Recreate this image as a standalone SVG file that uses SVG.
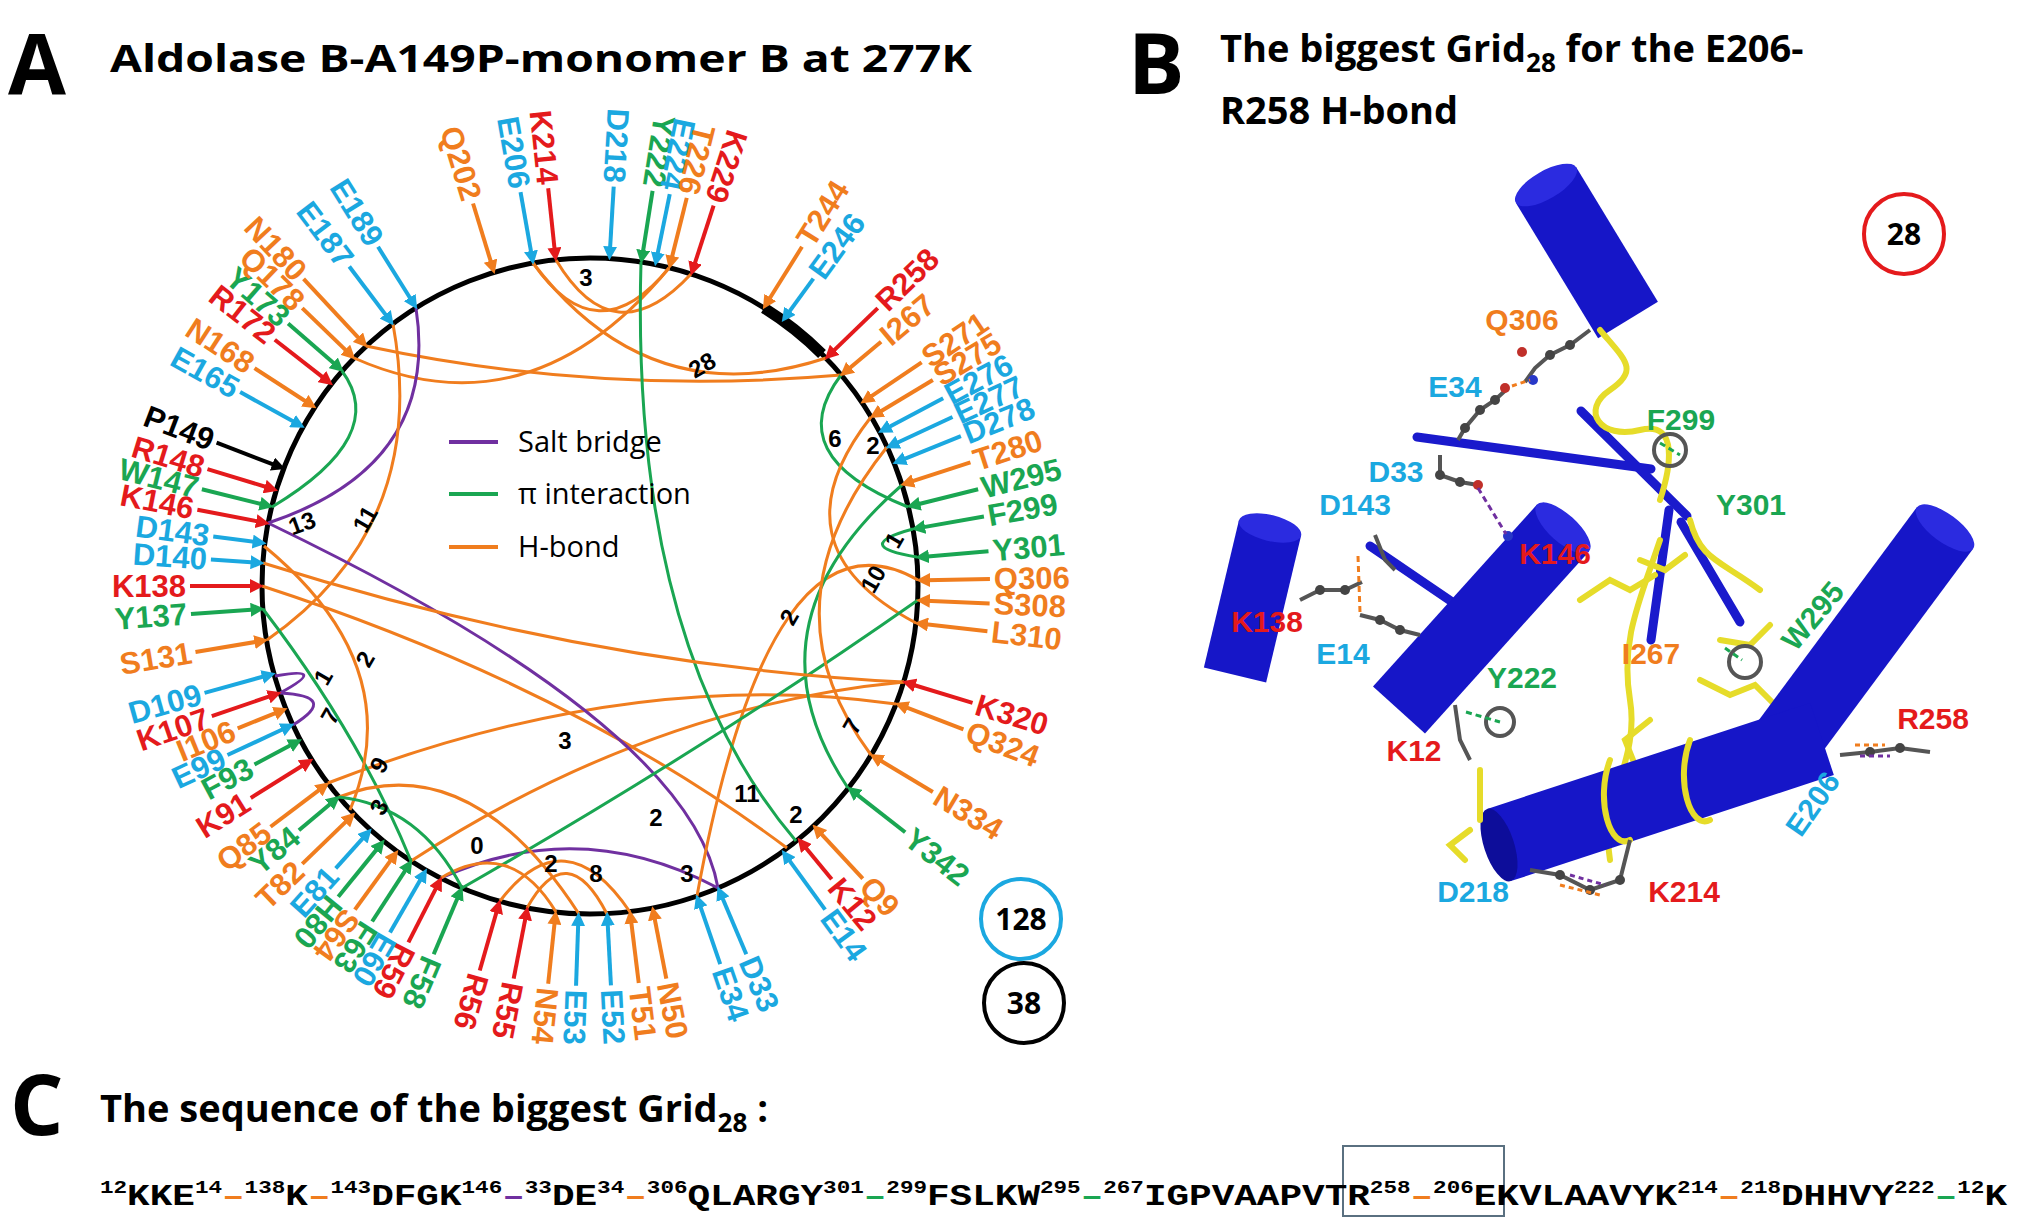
<svg xmlns="http://www.w3.org/2000/svg" width="2020" height="1220" viewBox="0 0 2020 1220">
<style>
.t{font-family:"Open Sans","Liberation Sans",sans-serif;font-weight:bold;fill:#000}
.lb{font:bold 31px "Liberation Sans",sans-serif;dominant-baseline:central}
.num{font:bold 24px "Liberation Sans",sans-serif;fill:#000;text-anchor:middle;dominant-baseline:central}
g.r text{fill:#e41a1c} g.r line{stroke:#e41a1c;marker-end:url(#mr)}
g.b text{fill:#1ba8e0} g.b line{stroke:#1ba8e0;marker-end:url(#mb)}
g.g text{fill:#1aa652} g.g line{stroke:#1aa652;marker-end:url(#mg)}
g.o text{fill:#f07d1e} g.o line{stroke:#f07d1e;marker-end:url(#mo)}
g.k text{fill:#000} g.k line{stroke:#000;marker-end:url(#mk)}
.ar line{stroke-width:4}
#conn path{fill:none;stroke-width:3}
.co{stroke:#f07d1e}.cg{stroke:#1aa652}.cp{stroke:#7030a0}
.bl{font:bold 30px "Liberation Sans",sans-serif;text-anchor:middle}
.cyl{stroke:#1616c8;stroke-linecap:butt}
.st{stroke:#1a1acc;stroke-width:9;stroke-linecap:round}
.yl{fill:none;stroke:#e6dc2a;stroke-width:6;stroke-linecap:round}
.gy{fill:none;stroke:#555;stroke-width:4}
.ball{fill:#444}
.seq{font:bold 30px "Liberation Mono",monospace;fill:#000}
</style>
<defs>
<marker id="mr" viewBox="0 0 10 10" refX="3" refY="5" markerWidth="3.5" markerHeight="3.5" orient="auto"><path d="M0,0L10,5L0,10z" fill="#e41a1c"/></marker>
<marker id="mb" viewBox="0 0 10 10" refX="3" refY="5" markerWidth="3.5" markerHeight="3.5" orient="auto"><path d="M0,0L10,5L0,10z" fill="#1ba8e0"/></marker>
<marker id="mg" viewBox="0 0 10 10" refX="3" refY="5" markerWidth="3.5" markerHeight="3.5" orient="auto"><path d="M0,0L10,5L0,10z" fill="#1aa652"/></marker>
<marker id="mo" viewBox="0 0 10 10" refX="3" refY="5" markerWidth="3.5" markerHeight="3.5" orient="auto"><path d="M0,0L10,5L0,10z" fill="#f07d1e"/></marker>
<marker id="mk" viewBox="0 0 10 10" refX="3" refY="5" markerWidth="3.5" markerHeight="3.5" orient="auto"><path d="M0,0L10,5L0,10z" fill="#000"/></marker>
</defs>
<rect width="2020" height="1220" fill="#fff"/>

<!-- Panel A -->
<text class="t" x="8" y="94" font-size="84">A</text>
<text class="t" x="110" y="72" font-size="38" textLength="862" lengthAdjust="spacingAndGlyphs">Aldolase B-A149P-monomer B at 277K</text>

<circle cx="590" cy="586" r="328" fill="none" stroke="#000" stroke-width="5"/>
<path d="M764,308 A328,328 0 0 1 822,354" fill="none" stroke="#000" stroke-width="11"/>

<g id="conn" transform="translate(590,586)">
<path class="co" d="M-57,-323 Q7,-230 79,-318"/>
<path class="co" d="M-34,-326 Q24,-229 101,-312"/>
<path class="co" d="M236,-228 Q60,-170 -57,-323"/>
<path class="co" d="M79,-318 Q-60,-150 -236,-228"/>
<path class="co" d="M251,-211 Q10,-190 -224,-240"/>
<path class="cp" d="M-322,-63 Q-150,-120 -174,-278"/>
<path class="cg" d="M-318,-79 Q-200,-150 -248,-215"/>
<path class="co" d="M-197,-262 Q-160,-60 -323,54"/>
<path class="co" d="M-328,0 Q-20,100 197,262"/>
<path class="co" d="M314,96 Q60,120 -179,275"/>
<path class="co" d="M306,118 Q40,80 -262,197"/>
<path class="cp" d="M-322,-63 Q100,140 128,302"/>
<path class="cp" d="M-149,292 Q-10,229 128,302"/>
<path class="cp" d="M-315,90 Q-260,80 -310,107"/>
<path class="cp" d="M-310,107 Q-250,110 -297,139"/>
<path class="cg" d="M-327,23 Q-230,150 -179,275"/>
<path class="co" d="M-326,-40 Q-180,80 -240,224"/>
<path class="cg" d="M318,-79 Q190,-130 251,-211"/>
<path class="cg" d="M323,-57 Q260,-40 327,-29"/>
<path class="co" d="M328,-6 Q180,-90 107,310"/>
<path class="co" d="M326,37 Q180,-40 281,-169"/>
<path class="cg" d="M258,202 Q150,40 312,-101"/>
<path class="cg" d="M51,-324 Q40,60 206,255"/>
<path class="cg" d="M-128,302 Q120,160 328,14"/>
<path class="co" d="M281,169 Q170,20 297,-139"/>
<path class="co" d="M40,326 Q-25,230 -90,315"/>
<path class="co" d="M17,328 Q-23,250 -63,322"/>
<path class="co" d="M-251,211 Q-120,160 -11,328"/>
<path class="co" d="M-34,326 Q-80,250 -149,292"/>
<path class="cg" d="M-251,211 Q-170,220 -128,302"/>
<path class="co" d="M-327,-23 Q0,80 314,96"/>
</g>

<g id="nodes" transform="translate(590,586)">
<g id="n-Q202" class="o ar" transform="rotate(-107)"><line x1="400" y1="0" x2="336" y2="0"/><text class="lb" x="404" text-anchor="end" transform="rotate(180 404 0)">Q202</text></g>
<g id="n-E206" class="b ar" transform="rotate(-100)"><line x1="400" y1="0" x2="336" y2="0"/><text class="lb" x="404" text-anchor="end" transform="rotate(180 404 0)">E206</text></g>
<g id="n-K214" class="r ar" transform="rotate(-96)"><line x1="400" y1="0" x2="336" y2="0"/><text class="lb" x="404" text-anchor="end" transform="rotate(180 404 0)">K214</text></g>
<g id="n-D218" class="b ar" transform="rotate(-86.6)"><line x1="400" y1="0" x2="336" y2="0"/><text class="lb" x="404" text-anchor="end" transform="rotate(180 404 0)">D218</text></g>
<g id="n-Y222" class="g ar" transform="rotate(-81)"><line x1="400" y1="0" x2="336" y2="0"/><text class="lb" x="404" text-anchor="end" transform="rotate(180 404 0)">Y222</text></g>
<g id="n-E224" class="b ar" transform="rotate(-78.5)"><line x1="400" y1="0" x2="336" y2="0"/><text class="lb" x="404" text-anchor="end" transform="rotate(180 404 0)">E224</text></g>
<g id="n-T226" class="o ar" transform="rotate(-76)"><line x1="400" y1="0" x2="336" y2="0"/><text class="lb" x="404" text-anchor="end" transform="rotate(180 404 0)">T226</text></g>
<g id="n-K229" class="r ar" transform="rotate(-72)"><line x1="400" y1="0" x2="336" y2="0"/><text class="lb" x="404" text-anchor="end" transform="rotate(180 404 0)">K229</text></g>
<g id="n-T244" class="o ar" transform="rotate(-58)"><line x1="400" y1="0" x2="336" y2="0"/><text class="lb" x="404">T244</text></g>
<g id="n-E246" class="b ar" transform="rotate(-54)"><line x1="380" y1="0" x2="336" y2="0"/><text class="lb" x="384">E246</text></g>
<g id="n-R258" class="r ar" transform="rotate(-44)"><line x1="400" y1="0" x2="336" y2="0"/><text class="lb" x="404">R258</text></g>
<g id="n-I267" class="o ar" transform="rotate(-40)"><line x1="380" y1="0" x2="336" y2="0"/><text class="lb" x="384">I267</text></g>
<g id="n-S271" class="o ar" transform="rotate(-34)"><line x1="400" y1="0" x2="336" y2="0"/><text class="lb" x="404">S271</text></g>
<g id="n-S275" class="o ar" transform="rotate(-31)"><line x1="400" y1="0" x2="336" y2="0"/><text class="lb" x="404">S275</text></g>
<g id="n-E276" class="b ar" transform="rotate(-28)"><line x1="400" y1="0" x2="336" y2="0"/><text class="lb" x="404">E276</text></g>
<g id="n-E277" class="b ar" transform="rotate(-25)"><line x1="400" y1="0" x2="336" y2="0"/><text class="lb" x="404">E277</text></g>
<g id="n-D278" class="b ar" transform="rotate(-22)"><line x1="400" y1="0" x2="336" y2="0"/><text class="lb" x="404">D278</text></g>
<g id="n-T280" class="o ar" transform="rotate(-18)"><line x1="400" y1="0" x2="336" y2="0"/><text class="lb" x="404">T280</text></g>
<g id="n-W295" class="g ar" transform="rotate(-14)"><line x1="400" y1="0" x2="336" y2="0"/><text class="lb" x="404">W295</text></g>
<g id="n-F299" class="g ar" transform="rotate(-10)"><line x1="400" y1="0" x2="336" y2="0"/><text class="lb" x="404">F299</text></g>
<g id="n-Y301" class="g ar" transform="rotate(-5)"><line x1="400" y1="0" x2="336" y2="0"/><text class="lb" x="404">Y301</text></g>
<g id="n-Q306" class="o ar" transform="rotate(-1)"><line x1="400" y1="0" x2="336" y2="0"/><text class="lb" x="404">Q306</text></g>
<g id="n-S308" class="o ar" transform="rotate(2.5)"><line x1="400" y1="0" x2="336" y2="0"/><text class="lb" x="404">S308</text></g>
<g id="n-L310" class="o ar" transform="rotate(6.5)"><line x1="400" y1="0" x2="336" y2="0"/><text class="lb" x="404">L310</text></g>
<g id="n-K320" class="r ar" transform="rotate(17)"><line x1="400" y1="0" x2="336" y2="0"/><text class="lb" x="404">K320</text></g>
<g id="n-Q324" class="o ar" transform="rotate(21)"><line x1="400" y1="0" x2="336" y2="0"/><text class="lb" x="404">Q324</text></g>
<g id="n-N334" class="o ar" transform="rotate(31)"><line x1="400" y1="0" x2="336" y2="0"/><text class="lb" x="404">N334</text></g>
<g id="n-Y342" class="g ar" transform="rotate(38)"><line x1="400" y1="0" x2="336" y2="0"/><text class="lb" x="404">Y342</text></g>
<g id="n-Q9" class="o ar" transform="rotate(47)"><line x1="400" y1="0" x2="336" y2="0"/><text class="lb" x="404">Q9</text></g>
<g id="n-K12" class="r ar" transform="rotate(50.5)"><line x1="380" y1="0" x2="336" y2="0"/><text class="lb" x="384">K12</text></g>
<g id="n-E14" class="b ar" transform="rotate(54)"><line x1="400" y1="0" x2="336" y2="0"/><text class="lb" x="404">E14</text></g>
<g id="n-D33" class="b ar" transform="rotate(67)"><line x1="400" y1="0" x2="336" y2="0"/><text class="lb" x="404">D33</text></g>
<g id="n-E34" class="b ar" transform="rotate(71)"><line x1="400" y1="0" x2="336" y2="0"/><text class="lb" x="404">E34</text></g>
<g id="n-N50" class="o ar" transform="rotate(79)"><line x1="400" y1="0" x2="336" y2="0"/><text class="lb" x="404">N50</text></g>
<g id="n-T51" class="o ar" transform="rotate(83)"><line x1="400" y1="0" x2="336" y2="0"/><text class="lb" x="404">T51</text></g>
<g id="n-E52" class="b ar" transform="rotate(87)"><line x1="400" y1="0" x2="336" y2="0"/><text class="lb" x="404">E52</text></g>
<g id="n-E53" class="b ar" transform="rotate(92)"><line x1="400" y1="0" x2="336" y2="0"/><text class="lb" x="404">E53</text></g>
<g id="n-N54" class="o ar" transform="rotate(96)"><line x1="400" y1="0" x2="336" y2="0"/><text class="lb" x="404">N54</text></g>
<g id="n-R55" class="r ar" transform="rotate(101)"><line x1="400" y1="0" x2="336" y2="0"/><text class="lb" x="404">R55</text></g>
<g id="n-R56" class="r ar" transform="rotate(106)"><line x1="400" y1="0" x2="336" y2="0"/><text class="lb" x="404">R56</text></g>
<g id="n-F58" class="g ar" transform="rotate(113)"><line x1="400" y1="0" x2="336" y2="0"/><text class="lb" x="404">F58</text></g>
<g id="n-R59" class="r ar" transform="rotate(117)"><line x1="400" y1="0" x2="336" y2="0"/><text class="lb" x="404">R59</text></g>
<g id="n-E60" class="b ar" transform="rotate(120)"><line x1="400" y1="0" x2="336" y2="0"/><text class="lb" x="404">E60</text></g>
<g id="n-F63" class="g ar" transform="rotate(123)"><line x1="400" y1="0" x2="336" y2="0"/><text class="lb" x="404">F63</text></g>
<g id="n-S64" class="o ar" transform="rotate(126)"><line x1="400" y1="0" x2="336" y2="0"/><text class="lb" x="404">S64</text></g>
<g id="n-H80" class="g ar" transform="rotate(129)"><line x1="400" y1="0" x2="336" y2="0"/><text class="lb" x="404">H80</text></g>
<g id="n-E81" class="b ar" transform="rotate(132)"><line x1="380" y1="0" x2="336" y2="0"/><text class="lb" x="384" text-anchor="end" transform="rotate(180 384 0)">E81</text></g>
<g id="n-T82" class="o ar" transform="rotate(136)"><line x1="400" y1="0" x2="336" y2="0"/><text class="lb" x="404" text-anchor="end" transform="rotate(180 404 0)">T82</text></g>
<g id="n-Y84" class="g ar" transform="rotate(140)"><line x1="380" y1="0" x2="336" y2="0"/><text class="lb" x="384" text-anchor="end" transform="rotate(180 384 0)">Y84</text></g>
<g id="n-Q85" class="o ar" transform="rotate(143)"><line x1="400" y1="0" x2="336" y2="0"/><text class="lb" x="404" text-anchor="end" transform="rotate(180 404 0)">Q85</text></g>
<g id="n-K91" class="r ar" transform="rotate(148)"><line x1="400" y1="0" x2="336" y2="0"/><text class="lb" x="404" text-anchor="end" transform="rotate(180 404 0)">K91</text></g>
<g id="n-F93" class="g ar" transform="rotate(152)"><line x1="380" y1="0" x2="336" y2="0"/><text class="lb" x="384" text-anchor="end" transform="rotate(180 384 0)">F93</text></g>
<g id="n-E99" class="b ar" transform="rotate(155)"><line x1="400" y1="0" x2="336" y2="0"/><text class="lb" x="404" text-anchor="end" transform="rotate(180 404 0)">E99</text></g>
<g id="n-I106" class="o ar" transform="rotate(158)"><line x1="380" y1="0" x2="336" y2="0"/><text class="lb" x="384" text-anchor="end" transform="rotate(180 384 0)">I106</text></g>
<g id="n-K107" class="r ar" transform="rotate(161)"><line x1="400" y1="0" x2="336" y2="0"/><text class="lb" x="404" text-anchor="end" transform="rotate(180 404 0)">K107</text></g>
<g id="n-D109" class="b ar" transform="rotate(164.5)"><line x1="400" y1="0" x2="336" y2="0"/><text class="lb" x="404" text-anchor="end" transform="rotate(180 404 0)">D109</text></g>
<g id="n-S131" class="o ar" transform="rotate(170.5)"><line x1="400" y1="0" x2="336" y2="0"/><text class="lb" x="404" text-anchor="end" transform="rotate(180 404 0)">S131</text></g>
<g id="n-Y137" class="g ar" transform="rotate(176)"><line x1="400" y1="0" x2="336" y2="0"/><text class="lb" x="404" text-anchor="end" transform="rotate(180 404 0)">Y137</text></g>
<g id="n-K138" class="r ar" transform="rotate(180)"><line x1="400" y1="0" x2="336" y2="0"/><text class="lb" x="404" text-anchor="end" transform="rotate(180 404 0)">K138</text></g>
<g id="n-D140" class="b ar" transform="rotate(184)"><line x1="380" y1="0" x2="336" y2="0"/><text class="lb" x="384" text-anchor="end" transform="rotate(180 384 0)">D140</text></g>
<g id="n-D143" class="b ar" transform="rotate(187.5)"><line x1="380" y1="0" x2="336" y2="0"/><text class="lb" x="384" text-anchor="end" transform="rotate(180 384 0)">D143</text></g>
<g id="n-K146" class="r ar" transform="rotate(191)"><line x1="400" y1="0" x2="336" y2="0"/><text class="lb" x="404" text-anchor="end" transform="rotate(180 404 0)">K146</text></g>
<g id="n-W147" class="g ar" transform="rotate(194)"><line x1="400" y1="0" x2="336" y2="0"/><text class="lb" x="404" text-anchor="end" transform="rotate(180 404 0)">W147</text></g>
<g id="n-R148" class="r ar" transform="rotate(197)"><line x1="400" y1="0" x2="336" y2="0"/><text class="lb" x="404" text-anchor="end" transform="rotate(180 404 0)">R148</text></g>
<g id="n-P149" class="k ar" transform="rotate(201)"><line x1="400" y1="0" x2="336" y2="0"/><text class="lb" x="404" text-anchor="end" transform="rotate(180 404 0)">P149</text></g>
<g id="n-E165" class="b ar" transform="rotate(209)"><line x1="400" y1="0" x2="336" y2="0"/><text class="lb" x="404" text-anchor="end" transform="rotate(180 404 0)">E165</text></g>
<g id="n-N168" class="o ar" transform="rotate(213)"><line x1="400" y1="0" x2="336" y2="0"/><text class="lb" x="404" text-anchor="end" transform="rotate(180 404 0)">N168</text></g>
<g id="n-R172" class="r ar" transform="rotate(218)"><line x1="400" y1="0" x2="336" y2="0"/><text class="lb" x="404" text-anchor="end" transform="rotate(180 404 0)">R172</text></g>
<g id="n-Y173" class="g ar" transform="rotate(221)"><line x1="400" y1="0" x2="336" y2="0"/><text class="lb" x="404" text-anchor="end" transform="rotate(180 404 0)">Y173</text></g>
<g id="n-Q178" class="o ar" transform="rotate(224)"><line x1="400" y1="0" x2="336" y2="0"/><text class="lb" x="404" text-anchor="end" transform="rotate(180 404 0)">Q178</text></g>
<g id="n-N180" class="o ar" transform="rotate(227)"><line x1="420" y1="0" x2="336" y2="0"/><text class="lb" x="424" text-anchor="end" transform="rotate(180 424 0)">N180</text></g>
<g id="n-E187" class="b ar" transform="rotate(233)"><line x1="400" y1="0" x2="336" y2="0"/><text class="lb" x="404" text-anchor="end" transform="rotate(180 404 0)">E187</text></g>
<g id="n-E189" class="b ar" transform="rotate(238)"><line x1="400" y1="0" x2="336" y2="0"/><text class="lb" x="404" text-anchor="end" transform="rotate(180 404 0)">E189</text></g>
</g>

<g id="numbers">
<text class="num" x="586" y="277">3</text>
<text class="num" x="702" y="365" transform="rotate(-30 702 365)">28</text>
<text class="num" x="835" y="438">6</text>
<text class="num" x="873" y="445">2</text>
<text class="num" x="894" y="540" transform="rotate(-60 894 540)">1</text>
<text class="num" x="873" y="579" transform="rotate(-60 873 579)">10</text>
<text class="num" x="789" y="617" transform="rotate(-60 789 617)">2</text>
<text class="num" x="852" y="726" transform="rotate(-60 852 726)">7</text>
<text class="num" x="747" y="793">11</text>
<text class="num" x="796" y="814">2</text>
<text class="num" x="656" y="817">2</text>
<text class="num" x="687" y="873">3</text>
<text class="num" x="596" y="873">8</text>
<text class="num" x="551" y="863">2</text>
<text class="num" x="477" y="845">0</text>
<text class="num" x="565" y="740">3</text>
<text class="num" x="379" y="765" transform="rotate(-60 379 765)">9</text>
<text class="num" x="379" y="807" transform="rotate(-60 379 807)">3</text>
<text class="num" x="323" y="677" transform="rotate(-60 323 677)">1</text>
<text class="num" x="330" y="716" transform="rotate(-60 330 716)">7</text>
<text class="num" x="365" y="659" transform="rotate(-60 365 659)">2</text>
<text class="num" x="302" y="523" transform="rotate(-20 302 523)">13</text>
<text class="num" x="365" y="519" transform="rotate(-60 365 519)">11</text>
</g>

<g id="legend">
<line x1="449" y1="442" x2="498" y2="442" stroke="#7030a0" stroke-width="4"/>
<line x1="449" y1="494" x2="498" y2="494" stroke="#1aa652" stroke-width="4"/>
<line x1="449" y1="547" x2="498" y2="547" stroke="#f07d1e" stroke-width="4"/>
<text x="518" y="452" font-family="Open Sans,Liberation Sans,sans-serif" font-size="29">Salt bridge</text>
<text x="518" y="504" font-family="Open Sans,Liberation Sans,sans-serif" font-size="29">π interaction</text>
<text x="518" y="557" font-family="Open Sans,Liberation Sans,sans-serif" font-size="29">H-bond</text>
</g>

<g id="count128"><circle cx="1021" cy="919" r="40" fill="none" stroke="#1ba8e0" stroke-width="4"/><text x="1021" y="930" text-anchor="middle" class="t" font-size="30">128</text></g>
<g id="count38"><circle cx="1024" cy="1003" r="40" fill="none" stroke="#000" stroke-width="4"/><text x="1024" y="1014" text-anchor="middle" class="t" font-size="30">38</text></g>

<!-- Panel B -->
<text class="t" x="1128" y="94" font-size="84">B</text>
<text class="t" x="1220" y="62" font-size="38">The biggest Grid<tspan font-size="26" dy="10">28</tspan><tspan dy="-10"> for the E206-</tspan></text>
<text class="t" x="1220" y="124" font-size="38">R258 H-bond</text>
<g id="count28"><circle cx="1904" cy="234" r="40" fill="none" stroke="#e41a1c" stroke-width="4"/><text x="1904" y="245" text-anchor="middle" class="t" font-size="30">28</text></g>

<g id="structure">
<line class="cyl" x1="1546" y1="185" x2="1628" y2="320" stroke-width="70"/>
<ellipse cx="1546" cy="185" rx="14" ry="35" transform="rotate(59.8 1546 185)" fill="#2b2be0"/>
<line class="cyl" x1="1270" y1="528" x2="1235" y2="675" stroke-width="64"/>
<ellipse cx="1270" cy="528" rx="13" ry="32" transform="rotate(103.4 1270 528)" fill="#2b2be0"/>
<line class="st" x1="1417" y1="437" x2="1651" y2="469"/>
<line class="st" x1="1581" y1="411" x2="1687" y2="516"/>
<line class="st" x1="1669" y1="510" x2="1651" y2="640"/>
<line class="st" x1="1681" y1="522" x2="1740" y2="622"/>
<line class="st" x1="1370" y1="546" x2="1464" y2="610"/>
<path class="yl" d="M1600,330 C1625,360 1640,370 1610,390 C1580,410 1600,440 1640,430 C1680,420 1670,470 1660,500"/>
<path class="yl" d="M1690,520 C1700,560 1720,560 1760,590 M1660,540 C1640,600 1620,640 1630,700 C1640,760 1600,800 1610,860"/>
<path class="yl" d="M1580,600 l30,-20 l20,10 l25,-15 M1640,560 l25,10 l20,-15 M1700,680 l30,15 l25,-10 l20,20 M1650,720 l-25,20 l10,25 M1720,640 l30,5 l20,-20"/>
<line class="cyl" x1="1563" y1="528" x2="1399" y2="710" stroke-width="70"/>
<ellipse cx="1563" cy="528" rx="14" ry="35" transform="rotate(132 1563 528)" fill="#2b2be0"/>
<line class="cyl" x1="1945" y1="528" x2="1775" y2="757" stroke-width="70"/>
<ellipse cx="1945" cy="528" rx="14" ry="35" transform="rotate(126.6 1945 528)" fill="#2b2be0"/>
<line class="cyl" x1="1822" y1="739" x2="1499" y2="845" stroke-width="76"/>
<ellipse cx="1499" cy="845" rx="15" ry="38" transform="rotate(161.8 1499 845)" fill="#0d0d9a"/>
<path class="yl" d="M1610,760 C1595,800 1610,850 1630,840 M1690,740 C1675,780 1690,830 1710,820 M1480,770 L1480,820 M1470,830 l-20,15 l15,15"/>
<path class="gy" d="M1590,330 L1570,345 L1550,355 L1535,368 L1525,382 M1508,388 L1495,400 L1480,410 L1465,428 L1458,440 M1440,455 L1440,475 L1460,482 L1478,485 M1300,600 L1320,590 L1345,590 L1362,582 M1360,615 L1380,620 L1400,630 L1420,635 M1375,535 L1385,560 L1395,570 M1455,705 L1460,740 L1470,760 M1840,755 L1870,752 L1900,748 L1930,752 M1530,870 L1560,875 L1590,890 L1620,880 L1625,860 L1630,840"/>
<circle class="gy" cx="1670" cy="450" r="16"/>
<circle class="gy" cx="1745" cy="662" r="16"/>
<circle class="gy" cx="1500" cy="722" r="14"/>
<g class="ball"><circle cx="1570" cy="345" r="5"/><circle cx="1550" cy="355" r="5"/><circle cx="1495" cy="400" r="5"/><circle cx="1480" cy="410" r="5"/><circle cx="1465" cy="428" r="5"/><circle cx="1440" cy="475" r="5"/><circle cx="1460" cy="482" r="5"/><circle cx="1320" cy="590" r="5"/><circle cx="1345" cy="590" r="5"/><circle cx="1380" cy="620" r="5"/><circle cx="1400" cy="630" r="5"/><circle cx="1870" cy="752" r="5"/><circle cx="1900" cy="748" r="5"/><circle cx="1560" cy="875" r="5"/><circle cx="1590" cy="890" r="5"/><circle cx="1620" cy="880" r="5"/></g>
<circle cx="1522" cy="352" r="5" fill="#c0302a"/><circle cx="1505" cy="388" r="5" fill="#c0302a"/><circle cx="1533" cy="380" r="5" fill="#2838c8"/>
<circle cx="1478" cy="485" r="5" fill="#c0302a"/><circle cx="1508" cy="536" r="5" fill="#2838c8"/>
<line x1="1512" y1="386" x2="1530" y2="380" stroke="#f07d1e" stroke-width="3" stroke-dasharray="5,4"/>
<line x1="1478" y1="488" x2="1506" y2="534" stroke="#7030a0" stroke-width="3" stroke-dasharray="6,4"/>
<line x1="1358" y1="556" x2="1360" y2="612" stroke="#f07d1e" stroke-width="3" stroke-dasharray="6,4"/>
<line x1="1466" y1="712" x2="1500" y2="722" stroke="#1aa652" stroke-width="3" stroke-dasharray="6,4"/>
<line x1="1725" y1="648" x2="1742" y2="660" stroke="#1aa652" stroke-width="3" stroke-dasharray="6,4"/>
<line x1="1660" y1="443" x2="1680" y2="455" stroke="#1aa652" stroke-width="3" stroke-dasharray="6,4"/>
<line x1="1855" y1="745" x2="1885" y2="745" stroke="#f07d1e" stroke-width="3" stroke-dasharray="5,4"/>
<line x1="1860" y1="756" x2="1890" y2="756" stroke="#7030a0" stroke-width="3" stroke-dasharray="5,4"/>
<line x1="1560" y1="885" x2="1600" y2="895" stroke="#f07d1e" stroke-width="3" stroke-dasharray="5,4"/>
<line x1="1570" y1="875" x2="1605" y2="885" stroke="#7030a0" stroke-width="3" stroke-dasharray="5,4"/>
</g>

<g id="blabels">
<text class="bl" x="1522" y="330" fill="#f07d1e">Q306</text>
<text class="bl" x="1455" y="397" fill="#1ba8e0">E34</text>
<text class="bl" x="1681" y="430" fill="#1aa652">F299</text>
<text class="bl" x="1396" y="482" fill="#1ba8e0">D33</text>
<text class="bl" x="1751" y="515" fill="#1aa652">Y301</text>
<text class="bl" x="1355" y="515" fill="#1ba8e0">D143</text>
<text class="bl" x="1555" y="564" fill="#e41a1c">K146</text>
<text class="bl" x="1267" y="632" fill="#e41a1c">K138</text>
<text class="bl" x="1343" y="664" fill="#1ba8e0">E14</text>
<text class="bl" x="1522" y="688" fill="#1aa652">Y222</text>
<text class="bl" x="1651" y="664" fill="#f07d1e">I267</text>
<text class="bl" x="1813" y="626" fill="#1aa652" transform="rotate(-50 1813 616)">W295</text>
<text class="bl" x="1414" y="761" fill="#e41a1c">K12</text>
<text class="bl" x="1933" y="729" fill="#e41a1c">R258</text>
<text class="bl" x="1813" y="814" fill="#1ba8e0" transform="rotate(-55 1813 804)">E206</text>
<text class="bl" x="1473" y="902" fill="#1ba8e0">D218</text>
<text class="bl" x="1684" y="902" fill="#e41a1c">K214</text>
</g>

<!-- Panel C -->
<text class="t" x="10" y="1135" font-size="84">C</text>
<text class="t" x="100" y="1122" font-size="38">The sequence of the biggest Grid<tspan font-size="26" dy="10">28</tspan><tspan dy="-10"> :</tspan></text>
<rect x="1343" y="1146" width="161" height="70" fill="none" stroke="#5a7080" stroke-width="2"/>
<text class="seq" x="100" y="1205" textLength="1907" lengthAdjust="spacingAndGlyphs"><tspan font-size="18" dy="-12">12</tspan><tspan dy="12">KKE</tspan><tspan font-size="18" dy="-12">14</tspan><tspan dy="12" fill="#f07d1e">–</tspan><tspan font-size="18" dy="-12">138</tspan><tspan dy="12">K</tspan><tspan dy="0" fill="#f07d1e">–</tspan><tspan font-size="18" dy="-12">143</tspan><tspan dy="12">DFGK</tspan><tspan font-size="18" dy="-12">146</tspan><tspan dy="12" fill="#7030a0">–</tspan><tspan font-size="18" dy="-12">33</tspan><tspan dy="12">DE</tspan><tspan font-size="18" dy="-12">34</tspan><tspan dy="12" fill="#f07d1e">–</tspan><tspan font-size="18" dy="-12">306</tspan><tspan dy="12">QLARGY</tspan><tspan font-size="18" dy="-12">301</tspan><tspan dy="12" fill="#1aa652">–</tspan><tspan font-size="18" dy="-12">299</tspan><tspan dy="12">FSLKW</tspan><tspan font-size="18" dy="-12">295</tspan><tspan dy="12" fill="#1aa652">–</tspan><tspan font-size="18" dy="-12">267</tspan><tspan dy="12">IGPVAAPVTR</tspan><tspan font-size="18" dy="-12">258</tspan><tspan dy="12" fill="#f07d1e">–</tspan><tspan font-size="18" dy="-12">206</tspan><tspan dy="12">EKVLAAVYK</tspan><tspan font-size="18" dy="-12">214</tspan><tspan dy="12" fill="#f07d1e">–</tspan><tspan font-size="18" dy="-12">218</tspan><tspan dy="12">DHHVY</tspan><tspan font-size="18" dy="-12">222</tspan><tspan dy="12" fill="#1aa652">–</tspan><tspan font-size="18" dy="-12">12</tspan><tspan dy="12">K</tspan></text>
</svg>
